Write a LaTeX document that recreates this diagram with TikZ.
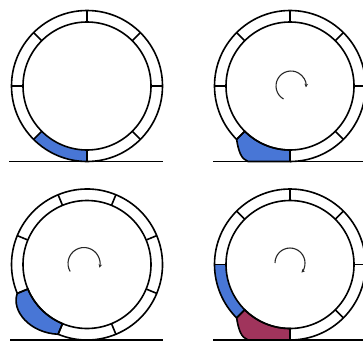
\documentclass[tikz,border=0pt]{standalone}
\usetikzlibrary{arrows.meta,calc}
\definecolor{tireblue}{RGB}{72,118,214}
\definecolor{tirered}{RGB}{160,52,92}
\begin{document}
\begin{tikzpicture}[x=1pt,y=1pt,
  ring/.style={line width=1.6pt, draw=black},
  groundline/.style={line width=1.8pt, black},
  spin/.style={line width=1.1pt, black!85, -{Stealth[length=3.5pt,width=3.5pt]}},
]
\useasboundingbox (0,0) rectangle (363,341);
\def\Ro{75.5}
\def\Ri{64}
% ---------- wheel 1 ----------
\coordinate (w1) at (87,255);
\fill[tireblue] ($(w1)+(-135:\Ro)$) arc[start angle=-135,end angle=-90,radius=\Ro]
  -- ($(w1)+(-90:\Ri)$) arc[start angle=-90,end angle=-135,radius=\Ri] -- cycle;
\draw[ring] (w1) circle (\Ro);
\draw[ring] (w1) circle (\Ri);
\foreach \a in {0,45,...,315} \draw[ring] ($(w1)+(\a:\Ri)$) -- ($(w1)+(\a:\Ro)$);
\coordinate (g1a) at (9,179.5);
\coordinate (g1b) at (163,179.5);
\draw[groundline] (g1a) -- (g1b);
% ---------- wheel 2 ----------
\coordinate (w2) at (290,255);
\draw[ring, fill=tireblue] ($(w2)+(-135:\Ri)$) -- ($(w2)+(-135:\Ro)$)
  .. controls (238.5,190) and (241,182) .. (248,179.5)
  -- ($(w2)+(-90:\Ro)$) -- ($(w2)+(-90:\Ri)$)
  arc[start angle=-90,end angle=-135,radius=\Ri] -- cycle;
\draw[ring] ($(w2)+(-90:\Ro)$) arc[start angle=-90,end angle=225,radius=\Ro];
\draw[ring] (w2) circle (\Ri);
\foreach \a in {0,45,...,315} \draw[ring] ($(w2)+(\a:\Ri)$) -- ($(w2)+(\a:\Ro)$);
\coordinate (g2a) at (213,179.5);
\coordinate (g2b) at (363,179.5);
\draw[groundline] (g2a) -- (g2b);
\coordinate (s2) at (291,255);
\draw[spin] ($(s2)+(240:15)$) arc[start angle=240,end angle=-5,radius=15];
% ---------- wheel 3 ----------
\coordinate (w3) at (87,76.5);
\draw[ring, fill=tireblue] ($(w3)+(-157.5:\Ri)$) -- ($(w3)+(-157.5:\Ro)$)
  .. controls (11,30) and (30,8) .. ($(w3)+(-112.5:\Ro)$)
  -- ($(w3)+(-112.5:\Ri)$)
  arc[start angle=-112.5,end angle=-157.5,radius=\Ri] -- cycle;
\draw[ring] ($(w3)+(-112.5:\Ro)$) arc[start angle=-112.5,end angle=202.5,radius=\Ro];
\draw[ring] (w3) circle (\Ri);
\foreach \a in {22.5,67.5,...,337.5} \draw[ring] ($(w3)+(\a:\Ri)$) -- ($(w3)+(\a:\Ro)$);
\coordinate (g3a) at (10,1);
\coordinate (g3b) at (163,1);
\draw[groundline] (g3a) -- (g3b);
\coordinate (s3) at (84,77.5);
\draw[spin] ($(s3)+(210:16)$) arc[start angle=210,end angle=-15,radius=16];
% ---------- wheel 4 ----------
\coordinate (w4) at (290,76.5);
\fill[tireblue] ($(w4)+(180:\Ro)$) arc[start angle=180,end angle=225,radius=\Ro]
  -- ($(w4)+(225:\Ri)$) arc[start angle=225,end angle=180,radius=\Ri] -- cycle;
\draw[ring, fill=tirered] ($(w4)+(-135:\Ri)$) -- ($(w4)+(-135:\Ro)$)
  .. controls (238.5,11.5) and (241,3.5) .. (248,1)
  -- ($(w4)+(-90:\Ro)$) -- ($(w4)+(-90:\Ri)$)
  arc[start angle=-90,end angle=-135,radius=\Ri] -- cycle;
\draw[ring] ($(w4)+(-90:\Ro)$) arc[start angle=-90,end angle=225,radius=\Ro];
\draw[ring] (w4) circle (\Ri);
\foreach \a in {0,45,...,315} \draw[ring] ($(w4)+(\a:\Ri)$) -- ($(w4)+(\a:\Ro)$);
\coordinate (g4a) at (213,1);
\coordinate (g4b) at (363,1);
\draw[groundline] (g4a) -- (g4b);
\coordinate (s4) at (290,78);
\draw[spin] ($(s4)+(180:15)$) arc[start angle=180,end angle=-40,radius=15];
\end{tikzpicture}
\end{document}
